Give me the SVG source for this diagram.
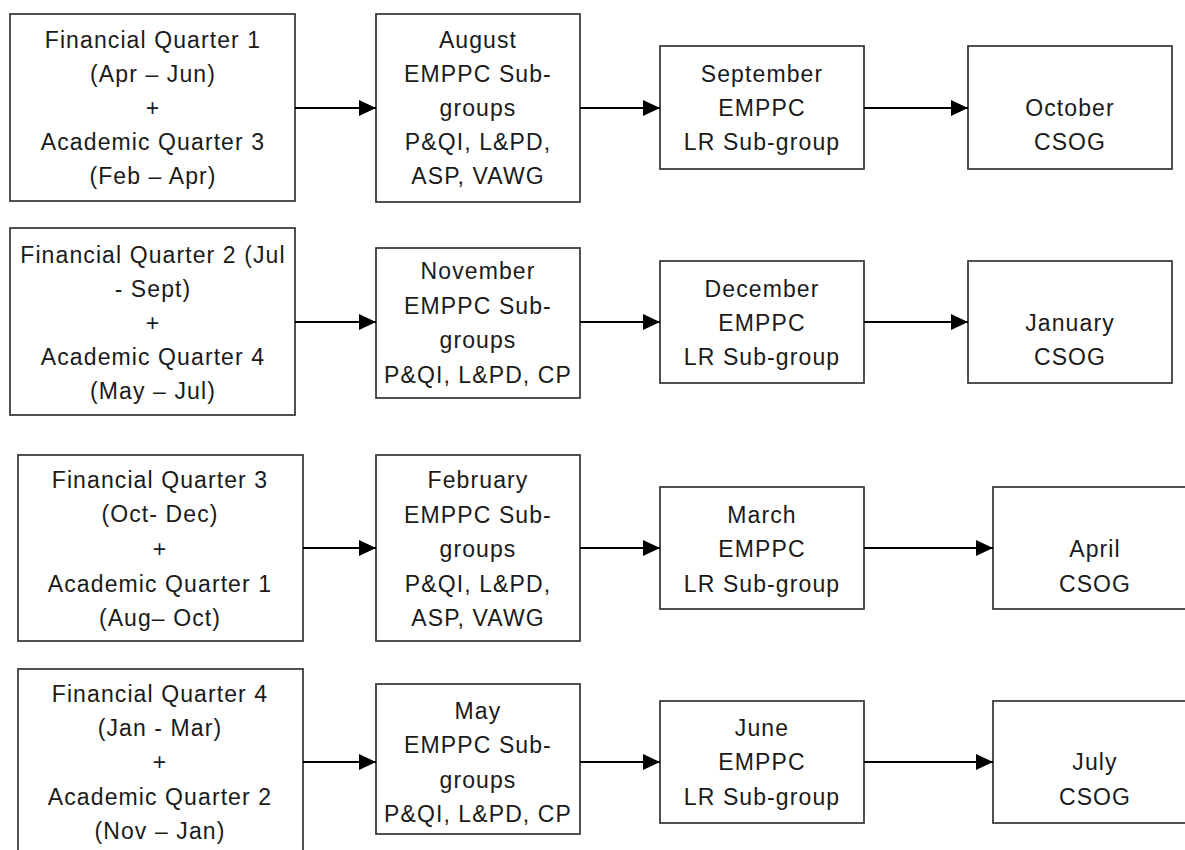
<svg xmlns="http://www.w3.org/2000/svg" width="1185" height="850" viewBox="0 0 1185 850">
  <style>
    .box { fill: #ffffff; stroke: #333333; stroke-width: 1.7; }
    .t { font-family: "Liberation Sans", Arial, sans-serif; font-size: 23px; letter-spacing: 1.1px; fill: #1a1a1a; text-anchor: middle; }
    .conn { stroke: #000000; stroke-width: 1.8; fill: none; marker-end: url(#arrow); }
  </style>
  <defs>
    <marker id="arrow" markerUnits="userSpaceOnUse" markerWidth="18" markerHeight="16" refX="17" refY="8" orient="auto">
      <path d="M0,0 L17,8 L0,16 Z" fill="#000000"/>
    </marker>
  </defs>
  <rect width="1185" height="850" fill="#ffffff"/>

  <!-- Row 1 -->
  <g id="fq1">
    <rect class="box" x="10" y="14" width="285" height="187"/>
    <text class="t" x="153" y="48">Financial Quarter 1</text>
    <text class="t" x="153" y="82">(Apr – Jun)</text>
    <text class="t" x="153" y="116">+</text>
    <text class="t" x="153" y="150">Academic Quarter 3</text>
    <text class="t" x="153" y="184">(Feb – Apr)</text>
  </g>
  <g id="aug">
    <rect class="box" x="376" y="14" width="204" height="188"/>
    <text class="t" x="478" y="48">August</text>
    <text class="t" x="478" y="82">EMPPC Sub-</text>
    <text class="t" x="478" y="116">groups</text>
    <text class="t" x="478" y="150">P&amp;QI, L&amp;PD,</text>
    <text class="t" x="478" y="184">ASP, VAWG</text>
  </g>
  <g id="sep">
    <rect class="box" x="660" y="46" width="204" height="123"/>
    <text class="t" x="762" y="82">September</text>
    <text class="t" x="762" y="116">EMPPC</text>
    <text class="t" x="762" y="150">LR Sub-group</text>
  </g>
  <g id="oct">
    <rect class="box" x="968" y="46" width="204" height="123"/>
    <text class="t" x="1070" y="116">October</text>
    <text class="t" x="1070" y="150">CSOG</text>
  </g>

  <!-- Row 2 -->
  <g id="fq2">
    <rect class="box" x="10" y="228" width="285" height="187"/>
    <text class="t" x="153" y="263">Financial Quarter 2 (Jul</text>
    <text class="t" x="153" y="297">- Sept)</text>
    <text class="t" x="153" y="331">+</text>
    <text class="t" x="153" y="365">Academic Quarter 4</text>
    <text class="t" x="153" y="399">(May – Jul)</text>
  </g>
  <g id="nov">
    <rect class="box" x="376" y="248" width="204" height="150"/>
    <text class="t" x="478" y="279">November</text>
    <text class="t" x="478" y="314">EMPPC Sub-</text>
    <text class="t" x="478" y="348">groups</text>
    <text class="t" x="478" y="383">P&amp;QI, L&amp;PD, CP</text>
  </g>
  <g id="dec">
    <rect class="box" x="660" y="261" width="204" height="122"/>
    <text class="t" x="762" y="297">December</text>
    <text class="t" x="762" y="331">EMPPC</text>
    <text class="t" x="762" y="365">LR Sub-group</text>
  </g>
  <g id="jan">
    <rect class="box" x="968" y="261" width="204" height="122"/>
    <text class="t" x="1070" y="331">January</text>
    <text class="t" x="1070" y="365">CSOG</text>
  </g>

  <!-- Row 3 -->
  <g id="fq3">
    <rect class="box" x="18" y="455" width="285" height="186"/>
    <text class="t" x="160" y="488">Financial Quarter 3</text>
    <text class="t" x="160" y="522">(Oct- Dec)</text>
    <text class="t" x="160" y="557">+</text>
    <text class="t" x="160" y="592">Academic Quarter 1</text>
    <text class="t" x="160" y="626">(Aug– Oct)</text>
  </g>
  <g id="feb">
    <rect class="box" x="376" y="455" width="204" height="186"/>
    <text class="t" x="478" y="488">February</text>
    <text class="t" x="478" y="523">EMPPC Sub-</text>
    <text class="t" x="478" y="557">groups</text>
    <text class="t" x="478" y="592">P&amp;QI, L&amp;PD,</text>
    <text class="t" x="478" y="626">ASP, VAWG</text>
  </g>
  <g id="mar">
    <rect class="box" x="660" y="487" width="204" height="122"/>
    <text class="t" x="762" y="523">March</text>
    <text class="t" x="762" y="557">EMPPC</text>
    <text class="t" x="762" y="592">LR Sub-group</text>
  </g>
  <g id="apr">
    <rect class="box" x="993" y="487" width="204" height="122"/>
    <text class="t" x="1095" y="557">April</text>
    <text class="t" x="1095" y="592">CSOG</text>
  </g>

  <!-- Row 4 -->
  <g id="fq4">
    <rect class="box" x="18" y="669" width="285" height="190"/>
    <text class="t" x="160" y="702">Financial Quarter 4</text>
    <text class="t" x="160" y="736">(Jan - Mar)</text>
    <text class="t" x="160" y="770">+</text>
    <text class="t" x="160" y="805">Academic Quarter 2</text>
    <text class="t" x="160" y="839">(Nov – Jan)</text>
  </g>
  <g id="may">
    <rect class="box" x="376" y="684" width="204" height="150"/>
    <text class="t" x="478" y="719">May</text>
    <text class="t" x="478" y="753">EMPPC Sub-</text>
    <text class="t" x="478" y="788">groups</text>
    <text class="t" x="478" y="822">P&amp;QI, L&amp;PD, CP</text>
  </g>
  <g id="jun">
    <rect class="box" x="660" y="701" width="204" height="122"/>
    <text class="t" x="762" y="736">June</text>
    <text class="t" x="762" y="770">EMPPC</text>
    <text class="t" x="762" y="805">LR Sub-group</text>
  </g>
  <g id="jul">
    <rect class="box" x="993" y="701" width="204" height="122"/>
    <text class="t" x="1095" y="770">July</text>
    <text class="t" x="1095" y="805">CSOG</text>
  </g>

  <g id="connectors">
    <line class="conn" x1="295" y1="108" x2="376" y2="108"/>
    <line class="conn" x1="580" y1="108" x2="660" y2="108"/>
    <line class="conn" x1="864" y1="108" x2="968" y2="108"/>

    <line class="conn" x1="295" y1="322" x2="376" y2="322"/>
    <line class="conn" x1="580" y1="322" x2="660" y2="322"/>
    <line class="conn" x1="864" y1="322" x2="968" y2="322"/>

    <line class="conn" x1="303" y1="548" x2="376" y2="548"/>
    <line class="conn" x1="580" y1="548" x2="660" y2="548"/>
    <line class="conn" x1="864" y1="548" x2="993" y2="548"/>

    <line class="conn" x1="303" y1="762" x2="376" y2="762"/>
    <line class="conn" x1="580" y1="762" x2="660" y2="762"/>
    <line class="conn" x1="864" y1="762" x2="993" y2="762"/>
  </g>
</svg>
